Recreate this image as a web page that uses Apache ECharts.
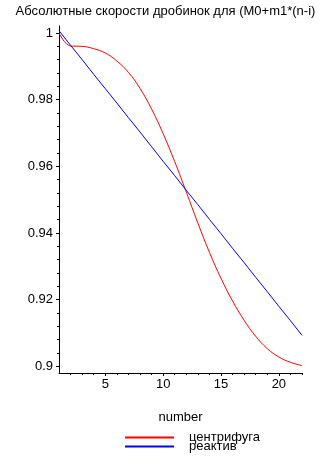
<!DOCTYPE html>
<html><head><meta charset="utf-8">
<script src="https://cdn.jsdelivr.net/npm/echarts@6/dist/echarts.min.js"></script>
<style>html,body{margin:0;padding:0;background:#fff}#c{width:331px;height:474px}</style>
</head><body><div id="c"></div>
<script>
var titleText = 'Абсолютные скорости дробинок для (M0+m1*(n-i)';
var xName = 'number';
var seriesNames = ['центрифуга', 'реактив'];
var nValues = [1,2,3,4,5,6,7,8,9,10,11,12,13,14,15,16,17,18,19,20,21,22];
var centrifuge = [1.0, 0.9961, 0.9960, 0.9953, 0.9940, 0.9916, 0.9882, 0.9834, 0.9772, 0.9698, 0.9614,
  0.9523, 0.9430, 0.9342, 0.9264, 0.9196, 0.9138, 0.9090, 0.9053, 0.9028, 0.9012, 0.9002];
var reactive = [1.0007, 0.9963, 0.992, 0.9876, 0.9833, 0.979, 0.9746, 0.9703, 0.9659, 0.9615, 0.9572,
  0.9528, 0.9485, 0.9441, 0.9398, 0.9354, 0.9311, 0.9267, 0.9224, 0.918, 0.9137, 0.9093];
var xTickLabels = [5, 10, 15, 20];
var xMinorTicks = [2,3,4,6,7,8,9,11,12,13,14,16,17,18,19,21,22];
var yTickLabels = [0.9, 0.92, 0.94, 0.96, 0.98, 1];
var yMinorTicks = [0.904,0.908,0.912,0.916,0.924,0.928,0.932,0.936,0.944,0.948,0.952,0.956,0.964,0.968,0.972,0.976,0.984,0.988,0.992,0.996];

function pairs(xs, ys){ return xs.map(function(x,i){return [x, ys[i]];}); }
var FONT = 'Liberation Sans';
var chart = echarts.init(document.getElementById('c'));
chart.setOption({
  animation: false,
  backgroundColor: '#ffffff',
  textStyle: {fontFamily: FONT},
  title: {text: titleText, left: 'center', top: 0,
    textStyle: {fontFamily: FONT, fontSize: 13, fontWeight: 'normal', color: '#000'}},
  grid: {left: 59, right: 29, top: 26, bottom: 101},
  legend: {
    orient: 'vertical', left: 124, top: 431, padding: 0,
    itemWidth: 49, itemHeight: 12, itemGap: -4,
    itemStyle: {opacity: 0},
    textStyle: {fontFamily: FONT, fontSize: 13, color: '#000', padding: [0,0,0,10]},
    data: seriesNames
  },
  xAxis: [{
    type: 'value', min: 1, max: 22,
    name: xName, nameLocation: 'middle', nameGap: 38,
    nameTextStyle: {fontFamily: FONT, fontSize: 13, color: '#000'},
    axisLine: {lineStyle: {color: '#000', width: 1}},
    axisTick: {show: true, customValues: xMinorTicks, length: 2, lineStyle: {color: '#000'}},
    axisLabel: {customValues: xTickLabels, color: '#000', fontSize: 13, fontFamily: FONT, margin: 5},
    splitLine: {show: false}
  }, {
    type: 'value', min: 1, max: 22, position: 'bottom',
    axisLine: {show: false},
    axisTick: {show: true, customValues: xTickLabels, length: 3, lineStyle: {color: '#000'}},
    axisLabel: {show: false},
    splitLine: {show: false}
  }],
  yAxis: [{
    type: 'value', min: 0.898, max: 1.0021,
    axisLine: {show: true, lineStyle: {color: '#000', width: 1}},
    axisTick: {show: true, customValues: yMinorTicks, length: 2, lineStyle: {color: '#000'}},
    axisLabel: {customValues: yTickLabels, color: '#000', fontSize: 13, fontFamily: FONT, margin: 6},
    splitLine: {show: false}
  }, {
    type: 'value', min: 0.898, max: 1.0021, position: 'left',
    axisLine: {show: false},
    axisTick: {show: true, customValues: yTickLabels, length: 3, lineStyle: {color: '#000'}},
    axisLabel: {show: false},
    splitLine: {show: false}
  }],
  series: [{
    name: seriesNames[0], type: 'line', data: pairs(nValues, centrifuge),
    symbol: 'none', smooth: 0.4, lineStyle: {color: '#ff0000', width: 1}, itemStyle: {color: '#ff0000'}
  }, {
    name: seriesNames[1], type: 'line', data: pairs(nValues, reactive),
    symbol: 'none', lineStyle: {color: '#0000ff', width: 1}, itemStyle: {color: '#0000ff'}
  }]
});
</script></body></html>
